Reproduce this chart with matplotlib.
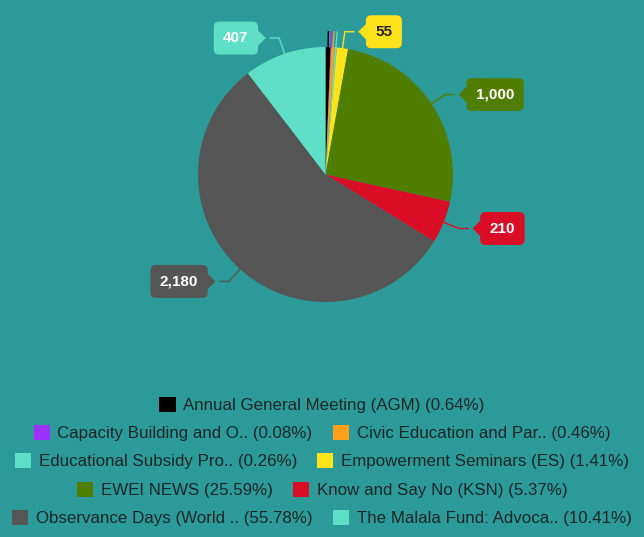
import numpy as np
from matplotlib import pyplot as plt
from matplotlib.patches import Patch
from matplotlib.path import Path

# data
names = ['Annual General Meeting (AGM)', 'Capacity Building and O..', 'Civic Education and Par..',
         'Educational Subsidy Pro..', 'Empowerment Seminars (ES)', 'EWEI NEWS',
         'Know and Say No (KSN)', 'Observance Days (World ..', 'The Malala Fund: Advoca..']
values = [25, 3, 18, 10, 55, 1000, 210, 2180, 407]
pcts = ['0.64%', '0.08%', '0.46%', '0.26%', '1.41%', '25.59%', '5.37%', '55.78%', '10.41%']
colors = ['#000000', '#9b30ff', '#ff9f1c', '#5fe0c6', '#ffe31a', '#4f7d00',
          '#d90d25', '#555555', '#5fe0c6']
label_text_colors = ['white', 'white', 'black', 'white', '#222222', 'white', 'white', 'white', 'white']
legend_rows = [[0], [1, 2], [3, 4], [5, 6], [7, 8]]
show_label = [v >= 50 for v in values]

bg = '#2d9a9a'
plt.rcParams['font.family'] = ['Liberation Sans', 'DejaVu Sans']


def tag_box(side):
    # rounded box with a pointed tail on one side (like the data-label callouts)
    def box(x0, y0, width, height, mutation_size):
        pad = 0.62 * mutation_size
        r = 0.35 * mutation_size
        t = 0.5 * mutation_size
        x0, y0 = x0 - pad, y0 - pad
        x1, y1 = x0 + width + 2*pad, y0 + height + 2*pad
        ym = (y0 + y1) / 2
        v = [(x0 + r, y0), (x1 - r, y0), (x1, y0), (x1, y0 + r)]
        c = [Path.MOVETO, Path.LINETO, Path.CURVE3, Path.CURVE3]
        if side == 'right':
            v += [(x1, ym - t), (x1 + t, ym), (x1, ym + t)]
            c += [Path.LINETO] * 3
        v += [(x1, y1 - r), (x1, y1), (x1 - r, y1), (x0 + r, y1), (x0, y1), (x0, y1 - r)]
        c += [Path.LINETO, Path.CURVE3, Path.CURVE3, Path.LINETO, Path.CURVE3, Path.CURVE3]
        if side == 'left':
            v += [(x0, ym + t), (x0 - t, ym), (x0, ym - t)]
            c += [Path.LINETO] * 3
        v += [(x0, y0 + r), (x0, y0), (x0 + r, y0), (x0 + r, y0)]
        c += [Path.LINETO, Path.CURVE3, Path.CURVE3, Path.CLOSEPOLY]
        return Path(v, c)
    return box


fig = plt.figure(figsize=(6.44, 5.37), dpi=100)
fig.patch.set_facecolor(bg)
R = 127.5  # pie radius in px
cx, cy = 325.5, 174.5
ax = fig.add_axes([(cx - 2.5*R)/644, (537 - cy - 1.35*R)/537, 5*R/644, 2.7*R/537])
ax.set_facecolor(bg)

wedges, _ = ax.pie(values, colors=colors, startangle=90, counterclock=False,
                   radius=1.0, wedgeprops=dict(linewidth=0))
ax.set_aspect('auto')
ax.set_xlim(-2.5, 2.5)
ax.set_ylim(-1.35, 1.35)
ax.axis('off')

for i, w in enumerate(wedges):
    ang = np.deg2rad((w.theta1 + w.theta2) / 2)
    x, y = np.cos(ang), np.sin(ang)
    if not show_label[i]:
        # small slices only get their connector
        ax.plot([x, 1.12*x], [y, 1.12*y], color=colors[i], lw=1)
        continue
    side = 1 if x >= 0 else -1
    tx, ty = 1.13*x, 1.13*y
    bx = tx + side*0.07
    ax.plot([x, tx, bx], [y, ty, ty], color=colors[i], lw=1)
    ax.text(bx + side*0.17, ty, f'{values[i]:,}', ha='left' if side > 0 else 'right',
            va='center', fontsize=11, fontweight='bold', color=label_text_colors[i],
            bbox=dict(boxstyle=tag_box('left' if side > 0 else 'right'),
                      fc=colors[i], ec='none'))

row_y = [405, 433, 461, 490, 518]
for row, yp in zip(legend_rows, row_y):
    handles = [Patch(facecolor=colors[i], edgecolor='none') for i in row]
    labels = [f'{names[i]} ({pcts[i]})' for i in row]
    fig.legend(handles, labels, loc='center', bbox_to_anchor=(0.5, 1 - yp/537),
               ncol=len(row), frameon=False, fontsize=12.2, handlelength=0.95,
               handleheight=0.95, handletextpad=0.45, columnspacing=1.2,
               labelcolor='#1a2626', borderpad=0, borderaxespad=0)

fig.savefig('out.png', dpi=100, facecolor=bg)
